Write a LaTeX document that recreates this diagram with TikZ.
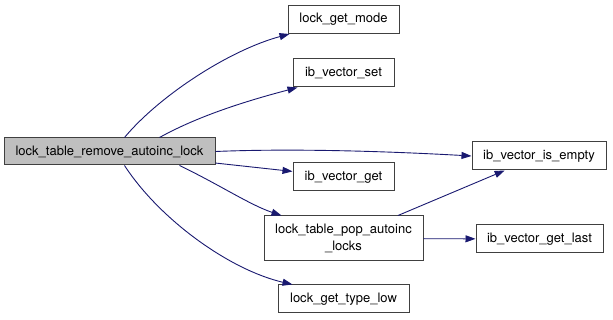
\documentclass[tikz,border=0pt]{standalone}
\usepackage{fontspec}
\setmainfont{TeX Gyre Heros}
\usetikzlibrary{arrows.meta,calc}
\definecolor{edgec}{HTML}{191970}
\definecolor{boxc}{HTML}{404040}
\definecolor{mainfill}{HTML}{BFBFBF}
\begin{document}
\begin{tikzpicture}[x=1pt,y=1pt,
  fn/.style={draw=boxc,line width=1pt,fill=white,inner sep=0pt,font=\fontsize{13}{17}\selectfont,align=center},
  call/.style={draw=edgec,line width=0.9pt,-{Triangle[length=10pt,width=7pt]}}]
\useasboundingbox (0,0) rectangle (613,320);
\node[fn,fill=mainfill,minimum width=211,minimum height=27] (main) at (109.5,168.5) {lock\_table\_remove\_autoinc\_lock};
\node[fn,minimum width=111,minimum height=28] (mode) at (343.5,300.5) {lock\_get\_mode};
\node[fn,minimum width=101,minimum height=28] (set) at (343.5,247) {ib\_vector\_set};
\node[fn,minimum width=101,minimum height=28] (get) at (343.5,143) {ib\_vector\_get};
\node[fn,minimum width=159,minimum height=45] (pop) at (343.5,81.5) {lock\_table\_pop\_autoinc\\\_locks};
\node[fn,minimum width=131,minimum height=28] (low) at (343.5,21) {lock\_get\_type\_low};
\node[fn,minimum width=134,minimum height=28] (empty) at (539,164) {ib\_vector\_is\_empty};
\node[fn,minimum width=127,minimum height=28] (last) at (539.5,81) {ib\_vector\_get\_last};
\draw[call] ($(main.north west)+(121,0)$) .. controls (160,225) and (230,270) .. ($(mode.south west)+(2,0)$);
\draw[call] ($(main.north west)+(156,0)$) .. controls (200,205) and (250,220) .. ($(set.south west)+(5,0)$);
\draw[call] (main.east) .. controls (300,172) and (400,168) .. (empty.west);
\draw[call] (main) -- (get);
\draw[call] ($(main.south west)+(176,0)$) .. controls (220,135) and (250,115) .. ($(pop.north west)+(18,0)$);
\draw[call] ($(main.south west)+(121,0)$) .. controls (160,100) and (230,50) .. ($(low.north west)+(15,0)$);
\draw[call] (pop) -- (empty);
\draw[call] (pop) -- (last);
\end{tikzpicture}
\end{document}
